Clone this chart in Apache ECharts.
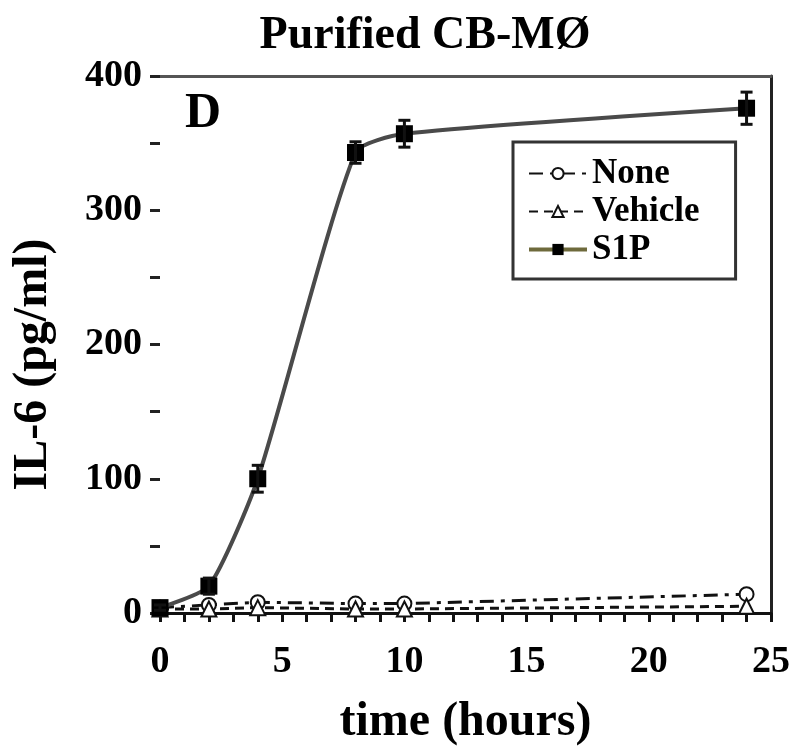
<!DOCTYPE html>
<html>
<head>
<meta charset="utf-8">
<script src="https://cdn.jsdelivr.net/npm/echarts@6/dist/echarts.min.js"></script>
<style>
  html, body { margin: 0; padding: 0; background: #fff; }
  #chart { width: 799px; height: 748px; }
</style>
</head>
<body>
<div id="chart"></div>
<script>
// values
const hours = [0, 2, 4, 8, 10, 24];
const noneVals = [4, 6, 8, 7, 7, 14];
const vehicleVals = [3, 3, 4, 3, 3, 5];
const s1pVals = [4, 20, 100, 343, 357, 376];
const s1pErr = [2, 6, 10, 8, 10, 12];
const yTicks = [0, 100, 200, 300, 400];
const xTicks = [0, 5, 10, 15, 20, 25];

const serif = '"Liberation Serif", "DejaVu Serif", serif';

const chart = echarts.init(document.getElementById('chart'));

const pairs = arr => hours.map((h, i) => [h, arr[i]]);

const errData = hours.map((h, i) => [h, s1pVals[i] - s1pErr[i], s1pVals[i] + s1pErr[i]]);

const option = {
    animation: false,
    title: [
        { text: 'Purified CB-MØ', left: 420, top: 8, textAlign: 'center',
          textStyle: { fontFamily: serif, fontSize: 46, fontWeight: 'bold', color: '#000' } },
        { text: 'D', left: 180, top: 84,
          textStyle: { fontFamily: serif, fontSize: 50, fontWeight: 'bold', color: '#000' } }
    ],
    grid: { left: 160, right: 28, top: 76, bottom: 135, containLabel: false, outerBoundsMode: 'none' },
    legend: {
        orient: 'vertical',
        left: 513, top: 142,
        padding: [14, 36, 12, 14],
        borderColor: '#333', borderWidth: 3,
        itemWidth: 58, itemHeight: 14, itemGap: 3,
        textStyle: { fontFamily: serif, fontSize: 35, fontWeight: 'bold', color: '#000' },
        data: [
            { name: 'None' },
            { name: 'Vehicle' },
            { name: 'S1P', lineStyle: { color: '#6e6a3c', width: 4 } }
        ]
    },
    xAxis: [{
        type: 'value', min: 0, max: 25, interval: 5,
        axisLine: { show: true, onZero: false, lineStyle: { color: '#111', width: 3 } },
        axisTick: { show: true, length: 9, lineStyle: { color: '#111', width: 3 } },
        minorTick: { show: true, splitNumber: 5, length: 9, lineStyle: { color: '#111', width: 3 } },
        splitLine: { show: false },
        axisLabel: { fontFamily: serif, fontSize: 38, fontWeight: 'bold', color: '#000', margin: 30,
                     formatter: v => xTicks.includes(v) ? String(v) : '' },
        name: 'time (hours)', nameLocation: 'middle', nameGap: 86,
        nameTextStyle: { fontFamily: serif, fontSize: 48, fontWeight: 'bold', color: '#000' }
    }, {
        type: 'value', position: 'top', min: 0, max: 25,
        axisLine: { show: true, onZero: false, lineStyle: { color: '#555', width: 3 } },
        axisTick: { show: false }, axisLabel: { show: false }, splitLine: { show: false }
    }],
    yAxis: [{
        type: 'value', min: 0, max: 400, interval: 100,
        axisLine: { show: false, onZero: false },
        axisTick: { show: true, length: 10, lineStyle: { color: '#222', width: 3 } },
        minorTick: { show: true, splitNumber: 2, length: 10, lineStyle: { color: '#222', width: 3 } },
        splitLine: { show: false },
        axisLabel: { fontFamily: serif, fontSize: 38, fontWeight: 'bold', color: '#000', margin: 18,
                     formatter: v => yTicks.includes(v) ? String(v) : '' },
        name: 'IL-6 (pg/ml)', nameLocation: 'middle', nameGap: 102, nameRotate: 90,
        nameTextStyle: { fontFamily: serif, fontSize: 48, fontWeight: 'bold', color: '#000',
                         padding: [0, 40, 0, 0] }
    }, {
        type: 'value', position: 'right', min: 0, max: 400,
        axisLine: { show: true, onZero: false, lineStyle: { color: '#222', width: 3 } },
        axisTick: { show: false }, axisLabel: { show: false }, splitLine: { show: false }
    }],
    series: [
        {
            name: 'None', type: 'line', data: pairs(noneVals),
            symbol: 'emptyCircle', symbolSize: 14, showAllSymbol: true,
            lineStyle: { color: '#111', width: 3, type: [14, 7, 4, 7] },
            itemStyle: { color: '#111', borderColor: '#111', borderWidth: 3 },
            z: 3
        },
        {
            name: 'Vehicle', type: 'line', data: pairs(vehicleVals),
            symbol: 'emptyTriangle', symbolSize: 15, showAllSymbol: true,
            lineStyle: { color: '#111', width: 3, type: [9, 6] },
            itemStyle: { color: '#111', borderColor: '#111', borderWidth: 3 },
            z: 3
        },
        {
            name: 'S1P', type: 'line', data: pairs(s1pVals),
            smooth: 0.2,
            symbol: 'rect', symbolSize: 17,
            lineStyle: { color: '#4a4a4a', width: 4 },
            itemStyle: { color: '#000' },
            z: 4
        },
        {
            name: 'S1P err', type: 'custom', data: errData, z: 5,
            renderItem: (params, api) => {
                const x = api.value(0);
                const lo = api.coord([x, api.value(1)]);
                const hi = api.coord([x, api.value(2)]);
                const w = 6;
                const st = { stroke: '#111', lineWidth: 3 };
                return {
                    type: 'group',
                    children: [
                        { type: 'line', shape: { x1: lo[0], y1: lo[1], x2: hi[0], y2: hi[1] }, style: st },
                        { type: 'line', shape: { x1: lo[0] - w, y1: lo[1], x2: lo[0] + w, y2: lo[1] }, style: st },
                        { type: 'line', shape: { x1: hi[0] - w, y1: hi[1], x2: hi[0] + w, y2: hi[1] }, style: st }
                    ]
                };
            }
        }
    ]
};

chart.setOption(option);
</script>
</body>
</html>
